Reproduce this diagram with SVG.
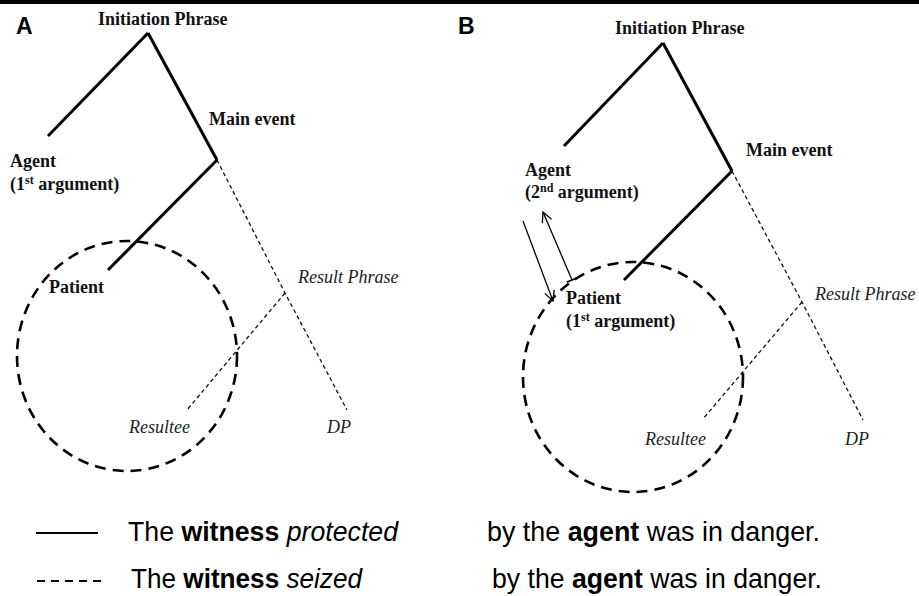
<svg xmlns="http://www.w3.org/2000/svg" width="919" height="596" viewBox="0 0 919 596">
<style>
.lbl{font-family:"Liberation Serif","Times New Roman",serif;font-size:18px;font-weight:bold;fill:#111}
.it{font-family:"Liberation Serif","Times New Roman",serif;font-size:18px;font-style:italic;fill:#222}
.sup{font-size:12px}
.pan{font-family:"Liberation Sans",Arial,sans-serif;font-size:23px;font-weight:bold;fill:#000}
.leg{font-family:"Liberation Sans",Arial,sans-serif;font-size:28px;fill:#000}
.thick{stroke:#000;stroke-width:3;fill:none;stroke-linecap:butt}
.thin{stroke:#111;stroke-width:1.3;fill:none;stroke-dasharray:4 3}
.circ{stroke:#000;stroke-width:2.6;fill:none;stroke-dasharray:11 7}
.arr{stroke:#000;stroke-width:1.3;fill:none}
</style>
<defs>
<marker id="open" viewBox="0 0 12 12" refX="11" refY="6" markerWidth="12" markerHeight="12" markerUnits="userSpaceOnUse" orient="auto">
<path d="M1,1 L11,6 L1,11" fill="none" stroke="#000" stroke-width="1.3"/>
</marker>
<marker id="bar" viewBox="0 0 4 12" refX="2" refY="6" markerWidth="4" markerHeight="12" markerUnits="userSpaceOnUse" orient="auto">
<path d="M2,0 L2,12" fill="none" stroke="#000" stroke-width="1.6"/>
</marker>
</defs>
<rect x="0" y="0" width="919" height="4" fill="#000"/>

<g id="panelA">
<text class="pan" x="16" y="34">A</text>
<g id="connectorsA">
<path class="thick" d="M148,33 L48,136"/>
<path class="thick" d="M148,33 L217,160"/>
<path class="thick" d="M217,160 L108,270"/>
<path class="thin" d="M217,160 L285,293 L347,410"/>
<path class="thin" d="M285,293 L187,410"/>
</g>
<g id="circleA"><ellipse class="circ" cx="127" cy="356" rx="110" ry="115"/></g>
<g id="A-init"><text class="lbl" x="98" y="25">Initiation Phrase</text></g>
<g id="A-main"><text class="lbl" x="209" y="125">Main event</text></g>
<g id="A-agent"><text class="lbl" x="10" y="167">Agent</text><text class="lbl" x="10" y="190">(1<tspan class="sup" dy="-6">st</tspan><tspan dy="6"> argument)</tspan></text></g>
<g id="A-patient"><text class="lbl" x="49" y="293">Patient</text></g>
<g id="A-result"><text class="it" x="298" y="283">Result Phrase</text></g>
<g id="A-resultee"><text class="it" x="129" y="433">Resultee</text></g>
<g id="A-dp"><text class="it" x="327" y="433">DP</text></g>
</g>

<g id="panelB">
<text class="pan" x="458" y="34">B</text>
<g id="connectorsB">
<path class="thick" d="M663,43 L564,146"/>
<path class="thick" d="M663,43 L732,171"/>
<path class="thick" d="M732,171 L624,280"/>
<path class="thin" d="M732,171 L802,302 L863,420"/>
<path class="thin" d="M802,302 L703,419"/>
<path class="arr" d="M523,221 L553,301" marker-end="url(#open)"/>
<path class="arr" d="M572,280 L543,212" marker-start="url(#bar)" marker-end="url(#open)"/>
</g>
<g id="circleB"><ellipse class="circ" cx="633" cy="377" rx="110" ry="115"/></g>
<g id="B-init"><text class="lbl" x="615" y="34">Initiation Phrase</text></g>
<g id="B-main"><text class="lbl" x="746" y="156">Main event</text></g>
<g id="B-agent"><text class="lbl" x="525" y="176">Agent</text><text class="lbl" x="525" y="198">(2<tspan class="sup" dy="-6">nd</tspan><tspan dy="6"> argument)</tspan></text></g>
<g id="B-patient"><text class="lbl" x="566" y="304">Patient</text><text class="lbl" x="566" y="327">(1<tspan class="sup" dy="-6">st</tspan><tspan dy="6"> argument)</tspan></text></g>
<g id="B-result"><text class="it" x="815" y="300">Result Phrase</text></g>
<g id="B-resultee"><text class="it" x="645" y="445">Resultee</text></g>
<g id="B-dp"><text class="it" x="845" y="445">DP</text></g>
</g>

<g id="legend">
<line x1="36" y1="533" x2="98" y2="533" stroke="#000" stroke-width="2.2"/>
<line x1="37" y1="581" x2="105" y2="581" stroke="#000" stroke-width="2.2" stroke-dasharray="8 6"/>
<text class="leg" x="128" y="541" textLength="270" lengthAdjust="spacingAndGlyphs">The <tspan font-weight="bold">witness</tspan> <tspan font-style="italic">protected</tspan></text>
<text class="leg" x="131" y="588" textLength="231" lengthAdjust="spacingAndGlyphs">The <tspan font-weight="bold">witness</tspan> <tspan font-style="italic">seized</tspan></text>
<text class="leg" x="487" y="541" textLength="333" lengthAdjust="spacingAndGlyphs">by the <tspan font-weight="bold">agent</tspan> was in danger.</text>
<text class="leg" x="492" y="588" textLength="330" lengthAdjust="spacingAndGlyphs">by the <tspan font-weight="bold">agent</tspan> was in danger.</text>
</g>
</svg>
